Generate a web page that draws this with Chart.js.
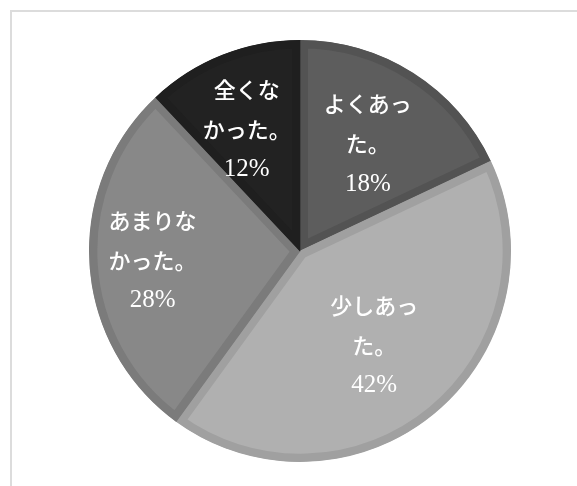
<!DOCTYPE html>
<html>
<head>
<meta charset="utf-8">
<script src="https://cdn.jsdelivr.net/npm/chart.js@4"></script>
<style>
  html, body { margin: 0; padding: 0; background: #fff; }
  body { width: 577px; height: 486px; position: relative; overflow: hidden; }
  .frame {
    position: absolute; left: 10px; top: 10px; width: 580px; height: 490px;
    border-top: 2px solid #dcdcdc; border-left: 2px solid #dcdcdc;
  }
  .box { position: absolute; left: 79px; top: 30px; width: 442px; height: 442px; }
</style>
</head>
<body>
<div class="frame"></div>
<div class="box"><canvas id="pieChart"></canvas></div>
<script>
// DATA
const categories = ["よくあった。", "少しあった。", "あまりなかった。", "全くなかった。"];
const values = [18, 42, 28, 12];
const labelLines = [["よくあっ", "た。"], ["少しあっ", "た。"], ["あまりな", "かった。"], ["全くな", "かった。"]];

// STYLE
const fills = ["#5d5d5d", "#b0b0b0", "#888888", "#222222"];
const borders = ["#535353", "#a0a0a0", "#7b7b7b", "#1f1f1f"];
// label placement: fraction of radius, angle tweak in degrees
const labelPos = [[0.60, 0], [0.57, 1.5], [0.70, 0], [0.63, -2]];

const total = values.reduce((a, b) => a + b, 0);

const sliceLabels = {
  id: "sliceLabels",
  afterDatasetsDraw(chart) {
    const ctx = chart.ctx;
    const arcs = chart.getDatasetMeta(0).data;
    ctx.save();
    ctx.fillStyle = "#ffffff";
    ctx.textAlign = "center";
    ctx.textBaseline = "middle";
    arcs.forEach((arc, i) => {
      const p = arc.getProps(["x", "y", "startAngle", "endAngle", "outerRadius"], true);
      const mid = (p.startAngle + p.endAngle) / 2 + labelPos[i][1] * Math.PI / 180;
      const r = p.outerRadius * labelPos[i][0];
      const cx = p.x + Math.cos(mid) * r;
      const cy = p.y + Math.sin(mid) * r;
      const lines = labelLines[i].concat([Math.round(values[i] / total * 100) + "%"]);
      const lh = 40;
      lines.forEach((t, k) => {
        const isPct = k === lines.length - 1;
        ctx.font = isPct ? "500 25px 'Liberation Serif'" : "500 22px 'Noto Sans CJK JP'";
        ctx.fillText(t, cx, cy + (k - (lines.length - 1) / 2) * lh);
      });
    });
    ctx.restore();
  }
};

new Chart(document.getElementById("pieChart"), {
  type: "pie",
  data: {
    labels: categories,
    datasets: [{
      data: values,
      backgroundColor: fills,
      borderColor: borders,
      borderWidth: 8,
      borderAlign: "inner",
      borderJoinStyle: "miter",
      hoverOffset: 0
    }]
  },
  options: {
    responsive: true,
    maintainAspectRatio: false,
    animation: false,
    radius: 211,
    layout: { padding: 0 },
    plugins: {
      legend: { display: false },
      tooltip: { enabled: false }
    }
  },
  plugins: [sliceLabels]
});
</script>
</body>
</html>
